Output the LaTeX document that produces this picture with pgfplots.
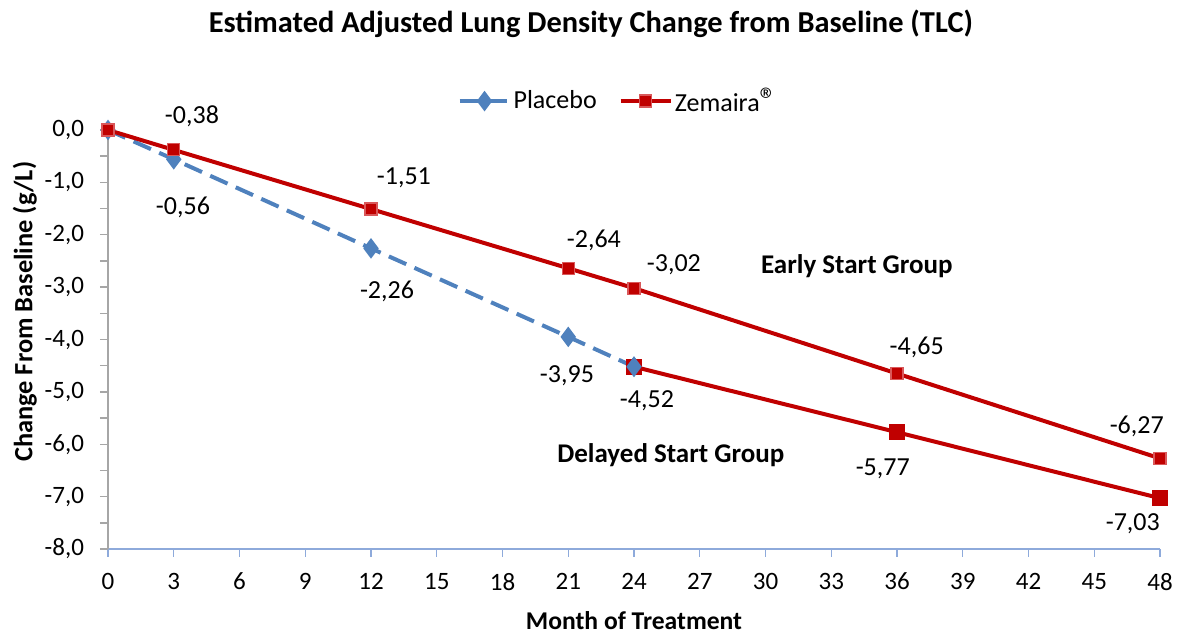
\documentclass[border=0pt]{standalone}
\usepackage{fontspec}
\setmainfont{Carlito}
\usepackage{pgfplots}
\pgfplotsset{compat=1.18}
\usetikzlibrary{calc}
\definecolor{zred}{HTML}{C00000}
\definecolor{zredlight}{HTML}{D9585A}
\definecolor{pblue}{HTML}{4F81BD}
\definecolor{axblue}{HTML}{8EAADB}
\definecolor{axgray}{HTML}{A6A6A6}
\newcommand{\tfs}{\fontsize{12.5}{14}\selectfont}
\newcommand{\dfs}{\fontsize{13}{15}\selectfont}
\begin{document}
\begin{tikzpicture}
\begin{axis}[
  name=ax,
  scale only axis,
  width=526pt, height=209.5pt,
  xmin=0, xmax=48, ymin=-8, ymax=0,
  clip=false,
  axis x line*=bottom, axis y line*=left,
  x axis line style={draw=axblue, line width=0.7pt, -},
  y axis line style={draw=axgray, line width=1pt, -},
  xtick={0,3,...,48},
  ytick={-8,-7,...,0},
  minor y tick num=1,
  tick align=outside,
  major tick length=4pt, minor tick length=4pt,
  x tick style={draw=axblue, line width=0.7pt},
  y tick style={draw=axgray, line width=0.7pt},
  every x tick label/.style={font=\tfs, yshift=-4.5pt},
  every y tick label/.style={font=\tfs, xshift=-4.5pt},
  yticklabel style={/pgf/number format/.cd, fixed, fixed zerofill, precision=1, use comma, assume math mode=true},
  xticklabel style={/pgf/number format/assume math mode=true},
  xlabel={\textbf{Month of Treatment}},
  xlabel style={font=\fontsize{12.8}{14}\selectfont, at={(0.5,-0.172)}, anchor=center},
  ylabel={\textbf{Change From Baseline (g/L)}},
  ylabel style={font=\fontsize{13.2}{15}\selectfont, at={(-0.079,0.566)}, anchor=center},
  title={\textbf{Estimated Adjusted Lung Density Change from Baseline (TLC)}},
  title style={font=\fontsize{15.2}{17}\selectfont, at={(0.459,1.2245)}, anchor=center},
  legend columns=2,
  legend style={draw=none, fill=none, at={(0.485,1.069)}, anchor=center,
    font=\dfs, nodes={inner xsep=1pt}, /tikz/every even column/.append style={column sep=10pt}},
  legend cell align=left,
  legend image code/.code={
    \draw[mark repeat=2,mark phase=2]
      plot coordinates {(0cm,0cm) (0.44cm,0cm) (0.88cm,0cm)};},
]
\addplot[pblue, line width=2pt, dash pattern=on 9.5pt off 4.5pt,
  mark=diamond*, mark size=3.5pt, mark options={solid, fill=pblue, draw=pblue}]
  coordinates {(0,0) (3,-0.56) (12,-2.26) (21,-3.95) (24,-4.52)};
\addlegendentry{Placebo}
\addplot[zred, line width=2pt,
  mark=square*, mark size=3pt, mark options={fill=zred, draw=zredlight, line width=0.6pt}]
  coordinates {(0,0) (3,-0.38) (12,-1.51) (21,-2.64) (24,-3.02) (36,-4.65) (48,-6.27)};
\addlegendentry{Zemaira{\fontsize{17}{17}\selectfont ®}}
\addplot[zred, line width=2pt,
  mark=square*, mark size=3pt, mark options={fill=zred, draw=zred}, forget plot]
  coordinates {(24,-4.52) (36,-5.77) (48,-7.03)};
\addplot[pblue, line width=2pt, mark=diamond*, mark size=3.5pt,
  mark options={fill=pblue, draw=pblue}, forget plot]
  coordinates {(24,-4.52)};
\begin{scope}[every node/.style={font=\dfs}]
\node at (axis cs:3.83,0.267) {-0,38};
\node at (axis cs:3.42,-1.47) {-0,56};
\node at (axis cs:13.5,-0.916) {-1,51};
\node at (axis cs:12.73,-3.09) {-2,26};
\node at (axis cs:22.17,-2.10) {-2,64};
\node at (axis cs:25.82,-2.58) {-3,02};
\node at (axis cs:20.94,-4.70) {-3,95};
\node at (axis cs:24.59,-5.17) {-4,52};
\node at (axis cs:36.9,-4.16) {-4,65};
\node at (axis cs:35.35,-6.47) {-5,77};
\node at (axis cs:46.94,-5.65) {-6,27};
\node at (axis cs:46.76,-7.52) {-7,03};
\node[font=\bfseries\fontsize{13.5}{15}\selectfont] at (axis cs:34.17,-2.60) {Early Start Group};
\node[font=\bfseries\fontsize{13.5}{15}\selectfont] at (axis cs:25.68,-6.20) {Delayed Start Group};
\end{scope}
\end{axis}
\pgfresetboundingbox
\useasboundingbox ($(ax.south west)+(-54pt,-43pt)$) rectangle ($(ax.north east)+(10.5pt,65pt)$);
\end{tikzpicture}
\end{document}
